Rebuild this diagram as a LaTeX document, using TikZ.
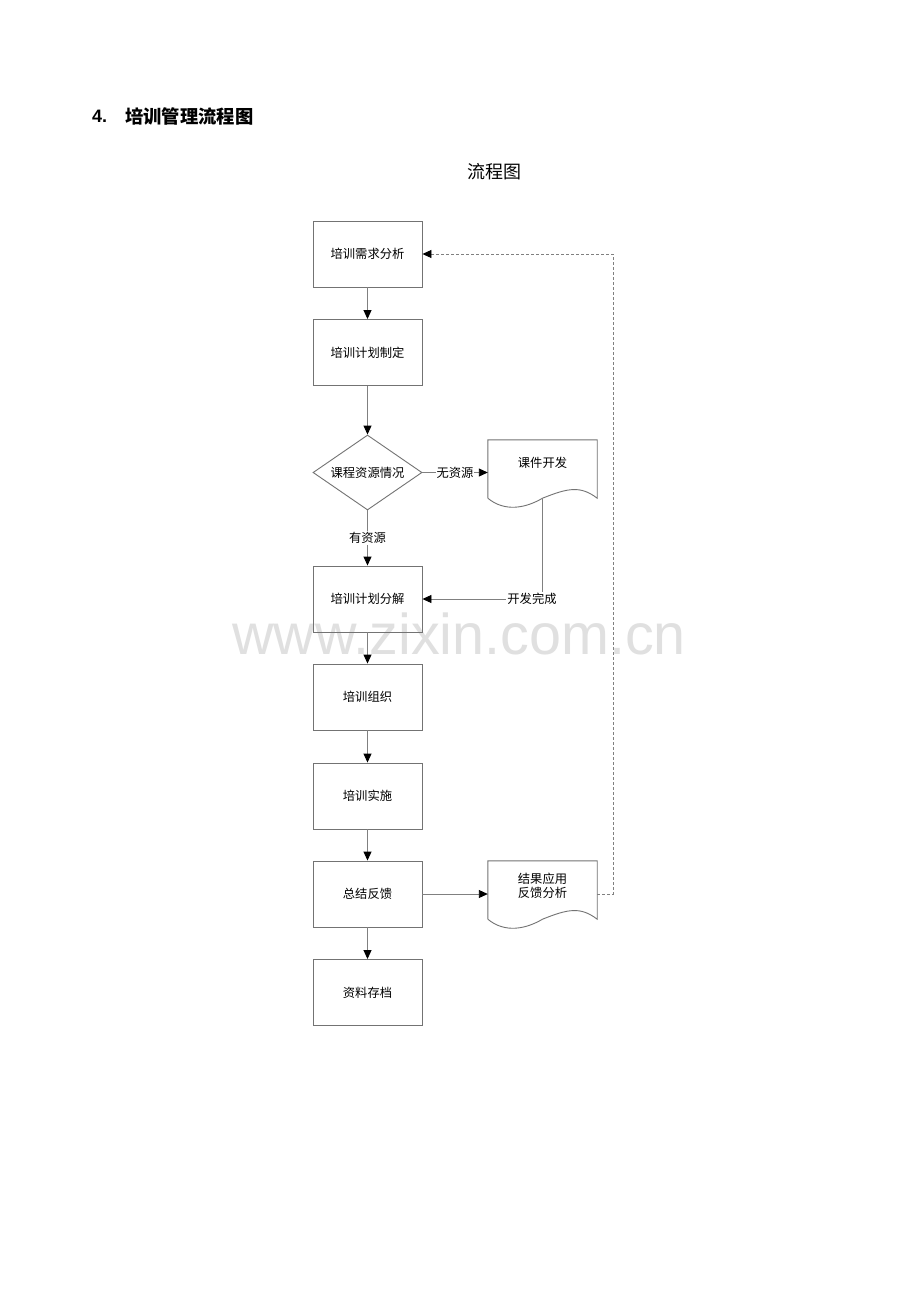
\documentclass[tikz,border=0pt]{standalone}
\usepackage{fontspec}
\setmainfont{Liberation Sans}
\newfontfamily\cjk{Noto Sans CJK SC}
\newfontfamily\wmfont{Liberation Sans}
\usetikzlibrary{shapes.geometric,arrows.meta,calc}
\tikzset{
  ln/.style={draw=black!50,line width=0.9pt},
  arr/.style={ln,-{Triangle[length=9pt,width=8pt,color=black]}},
  box/.style={draw=black!55,line width=0.9pt,minimum width=109pt,minimum height=66pt,inner sep=0pt,font=\cjk\fontsize{12.3}{14}\selectfont},
  dia/.style={shape=diamond,draw=black!55,line width=0.9pt,minimum width=109pt,minimum height=75pt,aspect=1.45,inner sep=0pt,font=\cjk\fontsize{12.3}{14}\selectfont},
  frame/.style={minimum width=109pt,minimum height=58pt,inner sep=0pt},
  docline/.style={draw=black!55,line width=0.9pt},
  txt/.style={inner sep=0pt,font=\cjk\fontsize{12.3}{14}\selectfont,align=center},
  lbl/.style={fill=white,inner sep=1pt,font=\cjk\fontsize{12.3}{14}\selectfont}
}
\begin{document}
\begin{tikzpicture}[x=1pt,y=-1pt]
\useasboundingbox[fill=white] (0,0) rectangle (920,1302);
% watermark
\node[text=black!12,font=\wmfont\fontsize{57.5}{62}\selectfont,inner sep=0pt] (wm) at (459,634) {www.zixin.com.cn};
% headings
\node[anchor=west,inner sep=0pt,font=\bfseries\fontsize{18}{20}\selectfont] (hnum) at (92,116) {4.};
\node[anchor=west,inner sep=0pt,font=\cjk\bfseries\fontsize{18.3}{20}\selectfont] (head) at (125,116) {培训管理流程图};
\node[inner sep=0pt,font=\cjk\fontsize{18}{20}\selectfont] (title) at (494.5,172) {流程图};
% boxes
\node[box] (b1) at (367.5,254) {培训需求分析};
\node[box] (b2) at (367.5,352.5) {培训计划制定};
\node[dia] (d1) at (367.5,472.5) {课程资源情况};
\node[box] (b3) at (367.5,599) {培训计划分解};
\node[box] (b4) at (367.5,697) {培训组织};
\node[box] (b5) at (367.5,796) {培训实施};
\node[box] (b6) at (367.5,894) {总结反馈};
\node[box] (b7) at (367.5,992.5) {资料存档};
% documents
\node[frame] (doc1) at (542.5,469) {};
\draw[docline] (doc1.south west) -- (doc1.north west) -- (doc1.north east) -- (doc1.south east)
  .. controls +(-17,-13) and +(25,-10) .. (doc1.south)
  .. controls +(-17,10) and +(17,14) .. (doc1.south west);
\node[txt] (doc1t) at (542.5,463) {课件开发};
\node[frame] (doc2) at (542.5,890) {};
\draw[docline] (doc2.south west) -- (doc2.north west) -- (doc2.north east) -- (doc2.south east)
  .. controls +(-17,-13) and +(25,-10) .. (doc2.south)
  .. controls +(-17,10) and +(17,14) .. (doc2.south west);
\node[txt] (doc2t) at (542.5,886) {结果应用\\反馈分析};
% connectors
\draw[arr] (b1) -- (b2);
\draw[arr] (b2) -- (d1);
\draw[arr] (d1) -- (b3);
\node[lbl] (l1) at (367.5,538) {有资源};
\draw[arr] (d1.east) -- (d1.east -| doc1.west);
\node[lbl] (l2) at (455,472.5) {无资源};
\coordinate (c1) at (542.5,599);
\draw[arr] (doc1.south) -- (c1) -- (b3.east);
\node[lbl] (l3) at (532,599) {开发完成};
\draw[arr] (b3) -- (b4);
\draw[arr] (b4) -- (b5);
\draw[arr] (b5) -- (b6);
\draw[arr] (b6) -- (b7);
\draw[arr] (b6.east) -- (b6.east -| doc2.west);
\coordinate (fb) at (613,0);
\draw[ln,dash pattern=on 3pt off 2pt,-{Triangle[length=9pt,width=8pt,color=black]}] (b6.east -| doc2.east) -- (b6.east -| fb) -- (b1.east -| fb) -- (b1.east);
\end{tikzpicture}
\end{document}
